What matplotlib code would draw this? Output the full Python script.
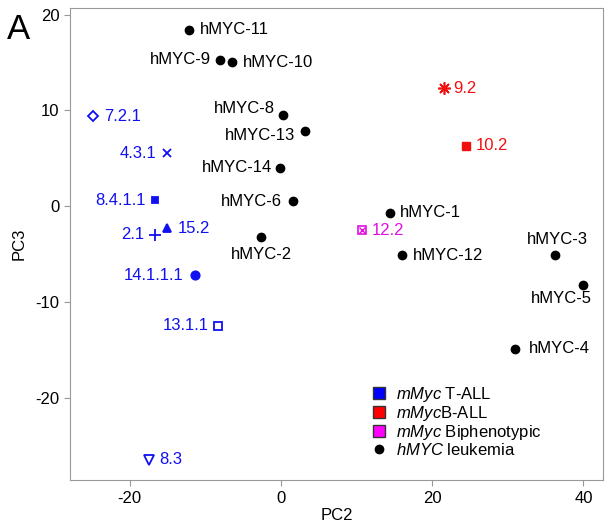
import matplotlib
matplotlib.use("Agg")
import matplotlib.pyplot as plt
from matplotlib.lines import Line2D

plt.rcParams['font.family'] = ['Liberation Sans', 'DejaVu Sans']
plt.rcParams['axes.unicode_minus'] = False
plt.rcParams['mathtext.fontset'] = 'custom'
plt.rcParams['mathtext.it'] = 'Liberation Sans:italic'
plt.rcParams['mathtext.rm'] = 'Liberation Sans'

# --- data ---
human_names = ['hMYC-11', 'hMYC-9', 'hMYC-10', 'hMYC-8', 'hMYC-13', 'hMYC-14',
               'hMYC-6', 'hMYC-2', 'hMYC-1', 'hMYC-12', 'hMYC-3', 'hMYC-5',
               'hMYC-4']
human_pc2 = [-12.2, -8.1, -6.5, 0.3, 3.2, -0.1, 1.6, -2.6, 14.4, 16.0, 36.2,
             40.0, 31.0]
human_pc3 = [18.4, 15.3, 15.0, 9.5, 7.8, 4.0, 0.5, -3.2, -0.7, -5.1, -5.1,
             -8.2, -14.9]

tall_names = ['7.2.1', '4.3.1', '8.4.1.1', '2.1', '15.2', '14.1.1.1',
              '13.1.1', '8.3']
tall_pc2 = [-24.8, -15.0, -16.6, -16.6, -15.1, -11.4, -8.3, -17.4]
tall_pc3 = [9.4, 5.5, 0.6, -3.0, -2.3, -7.2, -12.5, -26.5]

ball_names = ['9.2', '10.2']
ball_pc2 = [21.5, 24.5]
ball_pc3 = [12.3, 6.3]

biph_names = ['12.2']
biph_pc2 = [10.7]
biph_pc3 = [-2.5]

legend_labels = [r'$\it{mMyc}$ T-ALL', r'$\it{mMyc}$B-ALL',
                 r'$\it{mMyc}$ Biphenotypic', r'$\it{hMYC}$ leukemia']

# --- styles / label placement (offsets in points) ---
BLUE = '#1010f0'
RED = '#f01010'
MAG = '#e010e0'
FS = 12

human_off = {
    'hMYC-11': (8, 0, 'left'), 'hMYC-9': (-6, 0, 'right'),
    'hMYC-10': (8, 0, 'left'), 'hMYC-8': (-6, 5, 'right'),
    'hMYC-13': (-7, -3, 'right'), 'hMYC-14': (-6, 0, 'right'),
    'hMYC-6': (-8, 0, 'right'), 'hMYC-2': (0, -13, 'center'),
    'hMYC-1': (7, 0, 'left'), 'hMYC-12': (8, 0, 'left'),
    'hMYC-3': (2, 11, 'center'), 'hMYC-5': (-16, -10, 'center'),
    'hMYC-4': (10, 0, 'left'),
}
tall_style = {
    '7.2.1': ('D', False, 8, 'left', 5),
    '4.3.1': ('x', True, -8, 'right', 6),
    '8.4.1.1': ('s', True, -7, 'right', 5),
    '2.1': ('+', True, -8, 'right', 8),
    '15.2': ('^', True, 8, 'left', 6),
    '14.1.1.1': ('o', True, -8, 'right', 6),
    '13.1.1': ('s', False, -7, 'right', 6),
    '8.3': ('v', False, 7, 'left', 7),
}

fig = plt.figure(figsize=(6.08, 5.27), dpi=100)
ax = fig.add_axes([0.115, 0.089, 0.877, 0.896])

# human leukemias
ax.plot(human_pc2, human_pc3, 'o', color='black', ms=6, ls='none')
for n, x, y in zip(human_names, human_pc2, human_pc3):
    dx, dy, ha = human_off[n]
    ax.annotate(n, (x, y), xytext=(dx, dy), textcoords='offset points',
                ha=ha, va='center', fontsize=FS, color='black')

# mMyc T-ALL
for n, x, y in zip(tall_names, tall_pc2, tall_pc3):
    mk, filled, dx, ha, ms = tall_style[n]
    ax.plot(x, y, marker=mk, ms=ms, ls='none', color=BLUE,
            mfc=BLUE if filled else 'none', mew=1.3)
    ax.annotate(n, (x, y), xytext=(dx, 0), textcoords='offset points',
                ha=ha, va='center', fontsize=FS, color=BLUE)

# mMyc B-ALL
ax.plot(ball_pc2[0], ball_pc3[0], marker=(8, 2, 0), ms=9, mew=1.2,
        color=RED, ls='none')
ax.plot(ball_pc2[1], ball_pc3[1], marker='s', ms=5.5, color=RED, ls='none')
for n, x, y in zip(ball_names, ball_pc2, ball_pc3):
    ax.annotate(n, (x, y), xytext=(7, 0), textcoords='offset points',
                ha='left', va='center', fontsize=FS, color=RED)

# mMyc biphenotypic
ax.plot(biph_pc2, biph_pc3, marker='s', ms=6, mfc='none', mec=MAG, mew=1.2,
        ls='none')
ax.plot(biph_pc2, biph_pc3, marker='x', ms=5, color=MAG, mew=1.0, ls='none')
for n, x, y in zip(biph_names, biph_pc2, biph_pc3):
    ax.annotate(n, (x, y), xytext=(7, 0), textcoords='offset points',
                ha='left', va='center', fontsize=FS, color=MAG)

ax.set_xlim(-27.9, 42.6)
ax.set_ylim(-28.6, 20.7)
ax.set_xticks([-20, 0, 20, 40])
ax.set_yticks([-20, -10, 0, 10, 20])
ax.set_xlabel('PC2', fontsize=FS, labelpad=2)
ax.set_ylabel('PC3', fontsize=FS, labelpad=6)
for s in ax.spines.values():
    s.set_color('#999999')
ax.tick_params(colors='#999999', labelcolor='black', labelsize=FS, length=4)

handles = [
    Line2D([], [], marker='s', ls='none', mfc='#0000ff', mec='#333333', ms=8),
    Line2D([], [], marker='s', ls='none', mfc='#ff0000', mec='#333333', ms=8),
    Line2D([], [], marker='s', ls='none', mfc='#ff00ff', mec='#333333', ms=8),
    Line2D([], [], marker='o', ls='none', color='black', ms=6),
]
ax.legend(handles, legend_labels, loc='upper left', bbox_to_anchor=(0.555, 0.215),
          frameon=False, fontsize=FS, handlelength=0.8, handletextpad=0.6,
          labelspacing=0.0, borderaxespad=0)

fig.text(0.012, 0.975, 'A', fontsize=25, ha='left', va='top')

fig.savefig('out.png', dpi=100)
